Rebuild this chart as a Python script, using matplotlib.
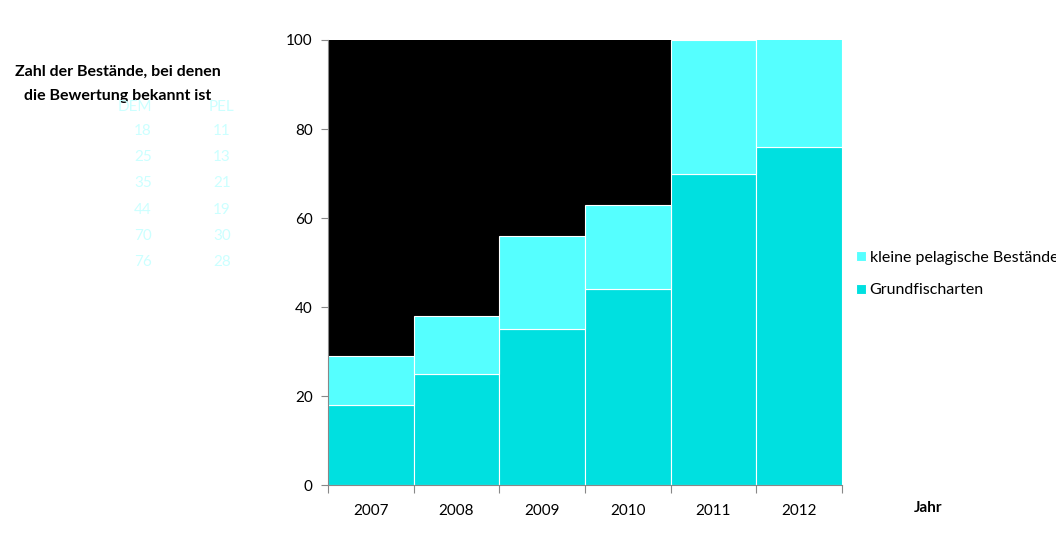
import matplotlib
matplotlib.use("Agg")
from matplotlib import pyplot as plt
import numpy as np

plt.rcParams['font.family'] = ['Lato', 'DejaVu Sans']

years = ["2007", "2008", "2009", "2010", "2011", "2012"]
dem = [18, 25, 35, 44, 70, 76]
pel = [11, 13, 21, 19, 30, 28]

col_dem = "#00E0E0"
col_pel = "#55FFFF"

fig = plt.figure(figsize=(10.56, 5.54), dpi=100)
ax = fig.add_axes([0.3106, 0.1245, 0.4867, 0.8033])
ax.set_facecolor("black")

x = np.arange(len(years))
ax.bar(x, dem, width=1.0, color=col_dem, edgecolor="white", linewidth=0.8, label="Grundfischarten")
ax.bar(x, pel, width=1.0, bottom=dem, color=col_pel, edgecolor="white", linewidth=0.8, label="kleine pelagische Bestände")

ax.set_xlim(-0.5, len(years) - 0.5)
ax.set_ylim(0, 100)
ax.set_yticks(range(0, 101, 20))
ax.set_xticks(np.arange(-0.5, len(years), 1.0))
ax.set_xticklabels([])
ax.set_xticks(x, minor=True)
ax.set_xticklabels(years, minor=True)
ax.tick_params(axis="x", which="minor", length=0, pad=14, labelsize=11)
ax.tick_params(axis="x", which="major", length=6, color="#888888")
ax.tick_params(axis="y", length=5, color="#888888", labelsize=11, pad=6)
for s in ["top", "right"]:
    ax.spines[s].set_visible(False)
for s in ["left", "bottom"]:
    ax.spines[s].set_color("#888888")

fig.text(928 / 1056, 1 - 508 / 554, "Jahr", fontsize=11, fontweight="bold",
         ha="center", va="center")

h, l = ax.get_legend_handles_labels()
leg = fig.legend(h[::-1], l[::-1], loc="upper left", bbox_to_anchor=(848 / 1056, 1 - 243 / 554),
                 frameon=False, fontsize=11.5, handlelength=0.6, handleheight=0.6,
                 handletextpad=0.25, labelspacing=1.15, borderpad=0)

# title and table at left
fig.text(118 / 1056, 1 - 72 / 554, "Zahl der Bestände, bei denen", fontsize=11.5, fontweight="bold",
         ha="center", va="center")
fig.text(118 / 1056, 1 - 96 / 554, "die Bewertung bekannt ist", fontsize=11.5, fontweight="bold",
         ha="center", va="center")

tcol = "#CCFFFF"
fig.text(135 / 1056, 1 - 107 / 554, "DEM", fontsize=11, color=tcol, ha="center", va="center")
fig.text(222 / 1056, 1 - 107 / 554, "PEL", fontsize=11, color=tcol, ha="center", va="center")
for i in range(len(years)):
    yy = 1 - (131 + i * 26.2) / 554
    fig.text(152 / 1056, yy, str(dem[i]), fontsize=11, color=tcol, ha="right", va="center")
    fig.text(231 / 1056, yy, str(pel[i]), fontsize=11, color=tcol, ha="right", va="center")

fig.savefig("out.png", dpi=100)
